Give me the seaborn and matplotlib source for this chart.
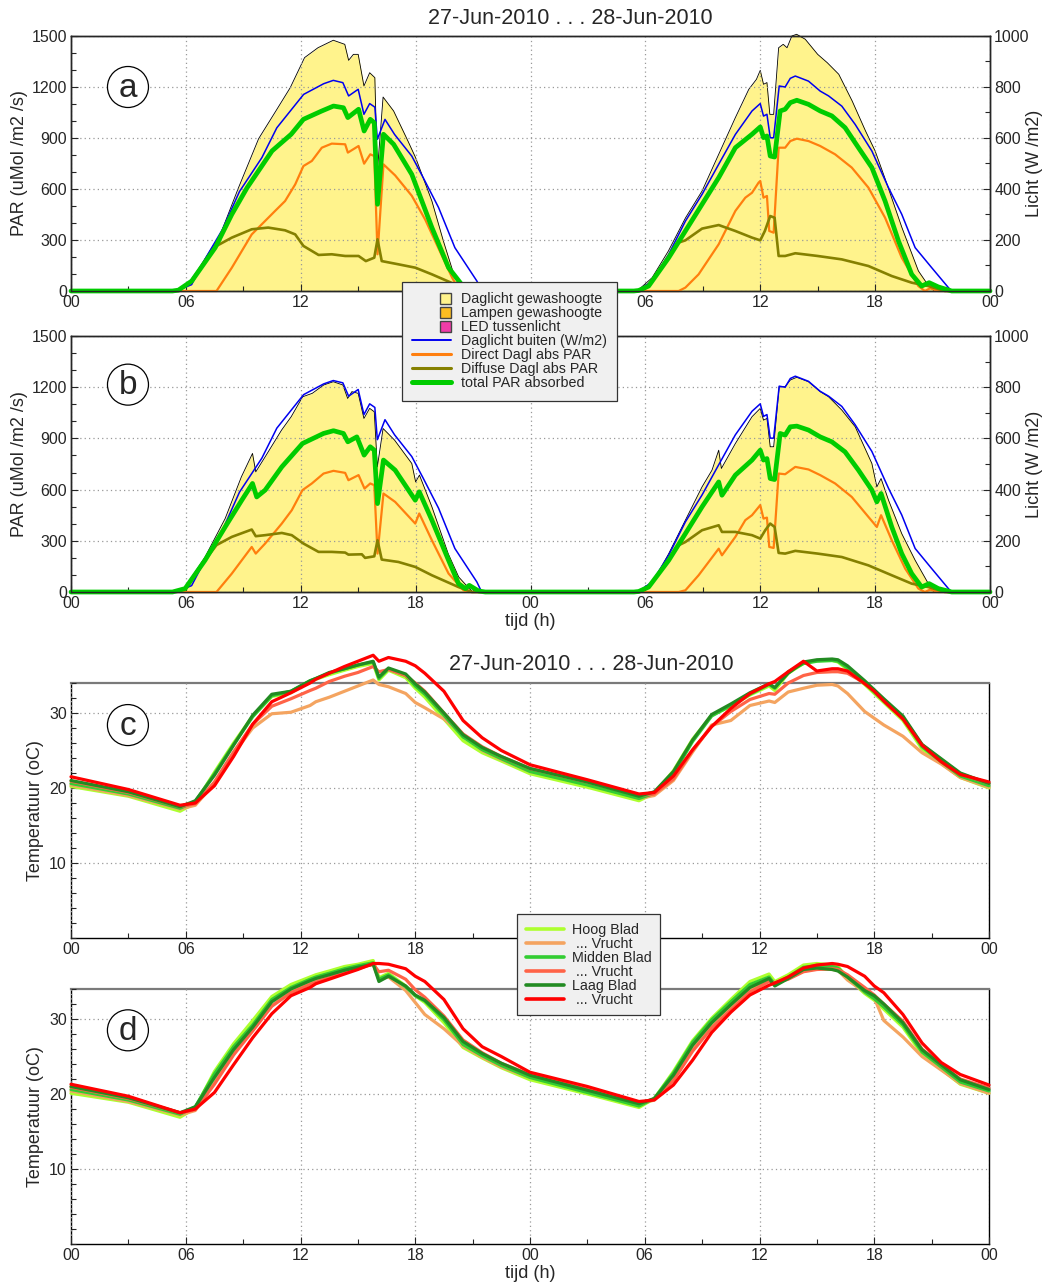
import numpy as np
import matplotlib
matplotlib.use("Agg")
import matplotlib.pyplot as plt
from matplotlib.patches import Rectangle, Ellipse
from matplotlib.lines import Line2D
from matplotlib.legend_handler import HandlerPatch
from matplotlib.ticker import MultipleLocator, FixedLocator, FixedFormatter
import seaborn as sns

sns.set_style("ticks")
plt.rcParams["font.family"] = ["Liberation Sans", "DejaVu Sans"]

# ---------------------------------------------------------------------------
# Light data, (hour of day, value) per day. PAR in uMol/m2/s, outside light in W/m2
# ---------------------------------------------------------------------------
# panel a
gewas_a_d1 = [(0, 0), (5.5, 0), (6.0, 25), (6.6, 120), (7.0, 190), (7.8, 333), (8.75, 608), (9.8, 896),
              (10.7, 1059), (11.45, 1196), (12.2, 1373), (12.9, 1431), (13.7, 1475), (14.3, 1451),
              (14.5, 1357), (14.75, 1392), (15.0, 1392), (15.3, 1206), (15.6, 1284), (15.87, 1255),
              (16.0, 700), (16.3, 1141), (16.85, 1059), (17.6, 882), (18.0, 784), (18.85, 529),
              (19.45, 294), (20.05, 78), (20.5, 0)]
gewas_a_d2 = [(0, 0), (5.57, 0), (6.35, 78), (7.2, 235), (8.1, 431), (8.96, 588), (9.83, 804), (10.7, 1020),
              (11.4, 1186), (11.8, 1245), (12.0, 1298), (12.17, 1216), (12.35, 1226), (12.5, 1039),
              (12.7, 1039), (12.96, 1431), (13.2, 1451), (13.4, 1431), (13.65, 1500), (13.9, 1510),
              (14.35, 1481), (15.0, 1392), (15.5, 1343), (16.1, 1275), (16.8, 1118), (17.5, 941),
              (18.0, 824), (18.5, 667), (19.4, 373), (20.26, 118), (20.8, 29), (21.3, 10), (22.0, 0), (24, 0)]

buiten_d1 = [(0, 0), (5.5, 0), (6.3, 25), (7.0, 125), (7.9, 240), (8.8, 390), (9.97, 523), (10.75, 640),
             (12.15, 771), (13.2, 813), (13.7, 826), (14.2, 817), (14.5, 765), (15.0, 791), (15.3, 693),
             (15.6, 735), (15.87, 721), (16.0, 595), (16.4, 673), (16.9, 614), (17.8, 529), (18.4, 444),
             (19.2, 327), (20.05, 170), (21.2, 39), (21.45, 0)]
buiten_d2 = [(0, 0), (5.6, 0), (6.35, 39), (7.22, 144), (8.09, 274), (8.96, 379), (9.83, 497), (10.7, 614),
             (11.57, 706), (12.0, 735), (12.17, 686), (12.35, 693), (12.52, 601), (12.7, 601), (12.99, 804),
             (13.3, 800), (13.57, 834), (13.83, 843), (14.52, 823), (15.13, 784), (15.57, 765),
             (16.26, 725), (16.96, 653), (17.83, 549), (18.7, 405), (19.39, 301), (20.09, 170),
             (20.96, 91), (21.83, 13), (22.0, 0), (24, 0)]

total_a_d1 = [(0, 0), (5.3, 0), (5.61, 5), (6.31, 59), (7.53, 255), (8.4, 451), (9.2, 608), (10.5, 824),
              (11.5, 922), (12.14, 1010), (13.1, 1059), (13.71, 1088), (14.23, 1078), (14.46, 1020),
              (15.02, 1069), (15.31, 941), (15.63, 1010), (15.84, 990), (16.01, 510), (16.32, 922),
              (16.85, 863), (17.8, 686), (18.85, 373), (19.72, 137), (20.33, 49), (20.59, 0)]
total_a_d2 = [(0, 0), (5.4, 0), (5.65, 3), (6.17, 29), (7.22, 196), (8.09, 353), (8.96, 510), (9.83, 667),
              (10.7, 843), (11.57, 922), (12.0, 965), (12.17, 902), (12.35, 912), (12.52, 794),
              (12.75, 788), (13.04, 1059), (13.3, 1069), (13.57, 1108), (13.91, 1122), (14.52, 1098),
              (15.13, 1059), (15.74, 1030), (16.43, 961), (17.13, 843), (17.83, 726), (18.52, 529),
              (19.22, 294), (19.91, 98), (20.43, 29), (20.82, 49), (21.3, 24), (22.0, 0), (24, 0)]

direct_a_d1 = [(0, 0), (7.6, 0), (8.4, 137), (9.44, 333), (10.66, 471), (11.18, 529), (11.71, 627),
               (12.14, 735), (12.58, 765), (13.1, 843), (13.62, 867), (14.32, 863), (14.46, 814),
               (15.02, 853), (15.31, 749), (15.63, 804), (15.84, 794), (16.01, 216), (16.32, 745),
               (16.93, 680), (17.8, 560), (18.5, 420), (19.2, 250), (19.9, 80), (20.3, 0)]
direct_a_d2 = [(0, 0), (7.74, 0), (8.09, 20), (8.78, 98), (9.83, 275), (10.7, 471), (11.22, 549),
               (11.57, 578), (11.91, 637), (12.0, 647), (12.17, 549), (12.35, 559), (12.47, 353),
               (12.7, 343), (12.96, 843), (13.3, 843), (13.57, 882), (13.91, 896), (14.52, 882),
               (15.13, 853), (15.91, 804), (16.78, 726), (17.65, 608), (18.52, 431), (19.39, 196),
               (20.26, 29), (20.6, 0), (20.87, 16), (21.3, 0), (24, 0)]

diffuse_a_d1 = [(0, 0), (5.3, 0), (5.61, 5), (6.31, 59), (7.0, 170), (7.6, 265), (8.4, 314), (9.44, 363),
                (10.3, 373), (11.18, 357), (11.71, 333), (12.14, 265), (12.93, 212), (13.62, 216),
                (14.32, 206), (15.02, 206), (15.4, 176), (15.84, 196), (16.01, 304), (16.23, 176),
                (17.1, 157), (17.99, 137), (18.85, 98), (20.06, 39), (20.6, 0)]
diffuse_a_d2 = [(0, 0), (5.4, 0), (5.65, 3), (6.17, 29), (7.22, 196), (7.74, 285), (8.09, 298),
                (8.96, 367), (9.83, 388), (10.7, 353), (11.57, 314), (12.0, 298), (12.24, 353),
                (12.52, 441), (12.75, 431), (12.96, 206), (13.3, 206), (13.83, 222), (15.0, 206),
                (16.26, 186), (17.65, 147), (18.87, 88), (19.91, 49), (20.78, 29), (21.65, 0), (24, 0)]

# panel b
gewas_b_d1 = [(0, 0), (5.5, 0), (5.96, 29), (7.0, 205), (8.05, 430), (8.9, 675), (9.48, 812), (9.65, 704),
              (10.14, 792), (11.0, 949), (11.5, 1027), (12.1, 1144), (12.6, 1164), (13.2, 1213),
              (13.7, 1232), (14.2, 1213), (14.45, 1134), (14.67, 1174), (15.0, 1164), (15.3, 1017),
              (15.6, 1076), (15.84, 1056), (16.0, 733), (16.3, 958), (16.9, 890), (17.8, 753),
              (18.0, 645), (18.2, 685), (18.85, 499), (19.7, 225), (20.25, 88), (20.8, 20), (21.0, 0)]
gewas_b_d2 = [(0, 0), (5.6, 0), (6.35, 49), (7.22, 225), (8.09, 421), (8.96, 616), (9.48, 714),
              (9.83, 831), (9.97, 724), (10.7, 870), (11.57, 1027), (12.0, 1076), (12.17, 1007),
              (12.35, 1017), (12.52, 851), (12.7, 851), (12.99, 1203), (13.3, 1203), (13.57, 1242),
              (13.91, 1258), (14.52, 1232), (15.13, 1174), (15.57, 1144), (16.26, 1066), (16.96, 968),
              (17.83, 753), (18.09, 616), (18.31, 665), (18.7, 538), (19.39, 342), (20.09, 186),
              (20.78, 49), (21.3, 20), (22.0, 0), (24, 0)]

total_b_d1 = [(0, 0), (5.3, 0), (5.96, 20), (7.0, 186), (8.05, 381), (8.92, 538), (9.48, 636), (9.7, 557),
              (10.14, 597), (11.01, 733), (12.09, 870), (13.19, 929), (13.71, 945), (14.23, 929),
              (14.46, 880), (14.93, 909), (15.31, 802), (15.63, 851), (15.84, 831), (16.01, 518),
              (16.32, 773), (16.93, 714), (17.98, 538), (18.19, 587), (18.85, 421), (19.72, 186),
              (20.24, 49), (20.59, 20), (20.8, 39), (21.29, 6), (21.64, 0)]
total_b_d2 = [(0, 0), (5.4, 0), (5.65, 3), (6.17, 29), (7.22, 186), (8.09, 342), (8.96, 499), (9.83, 645),
              (10.0, 567), (10.7, 685), (11.57, 773), (12.0, 831), (12.17, 773), (12.35, 782),
              (12.52, 665), (12.75, 659), (13.04, 929), (13.3, 919), (13.57, 968), (13.91, 972),
              (14.52, 949), (15.13, 909), (15.74, 880), (16.43, 821), (17.13, 714), (17.83, 597),
              (18.09, 528), (18.31, 577), (18.87, 381), (19.39, 225), (19.91, 108), (20.43, 29),
              (20.82, 49), (21.3, 20), (22.0, 0), (24, 0)]

direct_b_d1 = [(0, 0), (7.6, 0), (8.4, 108), (9.44, 264), (9.65, 225), (10.14, 284), (11.01, 401),
               (11.53, 479), (12.09, 597), (12.58, 636), (13.19, 694), (13.71, 710), (14.32, 698),
               (14.49, 655), (15.02, 685), (15.33, 606), (15.63, 636), (15.84, 626), (16.01, 225),
               (16.32, 577), (16.93, 528), (17.98, 401), (18.19, 460), (18.85, 303), (19.72, 108),
               (20.5, 10), (20.77, 0)]
direct_b_d2 = [(0, 0), (7.74, 0), (8.09, 10), (8.78, 98), (9.83, 254), (10.0, 215), (10.7, 323),
               (11.22, 421), (11.57, 450), (12.0, 509), (12.17, 430), (12.35, 436), (12.47, 264),
               (12.7, 258), (12.96, 694), (13.3, 690), (13.83, 733), (14.52, 718), (15.13, 685),
               (15.91, 636), (16.78, 557), (17.65, 440), (18.09, 381), (18.31, 450), (18.87, 303),
               (19.57, 137), (20.26, 20), (20.6, 0), (20.87, 14), (21.3, 0), (24, 0)]

diffuse_b_d1 = [(0, 0), (5.3, 0), (5.96, 20), (7.0, 186), (7.6, 275), (8.4, 323), (9.44, 366), (9.65, 327),
                (10.14, 333), (11.01, 346), (11.53, 333), (12.14, 284), (12.93, 235), (13.62, 235),
                (14.32, 231), (14.49, 219), (15.19, 221), (15.36, 200), (15.84, 209), (16.01, 303),
                (16.23, 190), (17.1, 176), (17.98, 147), (18.85, 98), (20.24, 29), (20.94, 0)]
diffuse_b_d2 = [(0, 0), (5.4, 0), (5.65, 3), (6.17, 29), (7.22, 186), (7.74, 274), (8.09, 293),
                (8.96, 362), (9.83, 391), (10.0, 352), (10.7, 352), (11.57, 333), (12.0, 313),
                (12.26, 362), (12.52, 401), (12.75, 381), (12.96, 229), (13.3, 225), (13.83, 241),
                (15.0, 225), (16.26, 205), (17.65, 156), (18.87, 98), (19.91, 49), (20.78, 29),
                (21.65, 0), (24, 0)]

# ---------------------------------------------------------------------------
# Temperatures (oC) at the hours in temp_hours
# ---------------------------------------------------------------------------
temp_hours = [0, 3, 5.7, 6.5, 7.5, 8.5, 9.5, 10.5, 11.5, 12.5, 12.8, 13.5, 14.3, 15, 15.8, 16.1, 16.6,
              17.5, 18, 18.5, 19.5, 20.5, 21.5, 22.5,
              24, 27, 29.7, 30.5, 31.5, 32.5, 33.5, 34.5, 35.5, 36.5, 36.8, 37.5, 38.3, 39, 39.8, 40.1,
              40.6, 41.5, 42, 42.5, 43.5, 44.5, 45.5, 46.5, 48]

c_hoog_blad = [20.2, 18.9, 16.9, 18.0, 22.1, 26.0, 29.6, 32.2, 32.7, 34.2, 34.5, 35.1, 35.7, 36.2, 36.6,
               34.4, 35.7, 34.7, 33.3, 32.1, 29.2, 26.3, 24.7, 23.6,
               21.9, 20.1, 18.3, 19.3, 22.3, 26.5, 29.7, 30.9, 32.4, 33.6, 33.0, 35.3, 36.6, 37.0, 37.0,
               36.8, 35.8, 33.8, 32.6, 31.4, 29.0, 25.2, 23.3, 21.4, 20.0]
c_hoog_vrucht = [20.4, 19.0, 17.2, 17.7, 20.6, 24.6, 28.0, 29.9, 30.1, 31.0, 31.5, 32.1, 32.9, 33.6, 34.4,
                 33.8, 33.5, 32.6, 31.4, 30.7, 29.2, 27.2, 25.0, 23.8,
                 22.2, 20.5, 18.6, 19.0, 21.0, 24.8, 28.4, 29.0, 31.0, 31.6, 31.4, 32.8, 33.3, 33.7, 33.8,
                 33.6, 32.6, 30.2, 29.3, 28.4, 26.9, 24.7, 23.2, 21.4, 20.1]
c_midden_blad = [20.6, 19.2, 17.3, 18.2, 21.9, 25.8, 29.5, 32.3, 32.9, 34.3, 34.6, 35.3, 35.9, 36.4, 36.8,
                 34.6, 35.9, 35.0, 33.6, 32.5, 29.7, 26.8, 25.1, 23.9,
                 22.2, 20.4, 18.6, 19.3, 21.9, 26.2, 29.6, 31.0, 32.5, 33.8, 33.3, 35.5, 36.6, 36.9, 37.0,
                 36.9, 36.0, 34.0, 32.8, 31.6, 29.3, 25.5, 23.5, 21.6, 20.3]
c_midden_vrucht = [20.9, 19.4, 17.5, 17.9, 20.8, 24.8, 28.5, 30.9, 31.9, 33.0, 33.3, 34.2, 34.9, 35.4, 36.2,
                   35.5, 35.8, 35.0, 34.0, 32.9, 30.0, 27.2, 25.5, 24.2,
                   22.6, 20.8, 19.0, 19.2, 21.2, 25.0, 28.2, 30.2, 31.8, 32.6, 32.5, 34.0, 35.0, 35.4, 35.5,
                   35.5, 35.3, 34.0, 33.0, 31.8, 29.4, 25.8, 23.8, 21.9, 20.6]
c_laag_blad = [21.0, 19.5, 17.5, 18.3, 21.7, 25.7, 29.7, 32.5, 32.9, 34.3, 34.6, 35.4, 35.9, 36.4, 36.9,
               34.8, 36.0, 35.2, 33.9, 32.8, 30.0, 27.1, 25.4, 24.2,
               22.6, 20.8, 18.9, 19.5, 22.2, 26.4, 29.8, 31.2, 32.7, 33.9, 33.4, 35.3, 36.8, 37.1, 37.2,
               37.1, 36.3, 34.3, 33.1, 31.9, 29.6, 25.8, 23.9, 22.0, 20.6]
c_laag_vrucht = [21.5, 19.8, 17.7, 18.0, 20.3, 24.2, 28.5, 31.5, 32.7, 34.0, 34.5, 35.3, 36.2, 36.9, 37.7,
                 36.9, 37.4, 36.9, 36.3, 35.3, 32.9, 29.0, 26.7, 25.0,
                 23.1, 21.1, 19.2, 19.4, 21.6, 25.1, 28.2, 30.6, 32.6, 33.9, 34.2, 35.5, 36.9, 35.6, 35.9,
                 35.9, 35.6, 33.9, 32.9, 31.6, 29.2, 25.7, 23.5, 21.8, 20.8]

d_hoog_blad = [20.1, 18.9, 16.9, 18.1, 23.0, 26.7, 29.8, 33.0, 34.6, 35.6, 35.9, 36.4, 37.0, 37.3, 37.8,
               35.5, 36.1, 34.4, 33.1, 32.2, 29.5, 26.2, 24.8, 23.5,
               21.9, 20.0, 18.2, 19.4, 23.0, 27.1, 30.1, 32.6, 35.0, 36.0, 35.0, 35.9, 37.2, 37.4, 37.2,
               37.0, 35.5, 33.4, 32.5, 31.3, 28.9, 25.3, 23.3, 21.3, 20.1]
d_hoog_vrucht = [20.4, 19.0, 17.2, 17.8, 21.5, 25.6, 28.6, 31.8, 33.6, 34.9, 35.2, 35.9, 36.5, 36.9, 37.3,
                 35.3, 35.6, 33.8, 32.2, 30.6, 28.7, 26.4, 24.9, 23.6,
                 22.2, 20.4, 18.6, 19.2, 21.9, 25.9, 29.1, 31.5, 33.9, 35.3, 34.8, 35.4, 36.4, 36.7, 36.6,
                 36.5, 35.2, 33.6, 32.8, 29.8, 27.6, 25.0, 23.2, 21.4, 20.1]
d_midden_blad = [20.6, 19.2, 17.3, 18.3, 22.7, 26.3, 29.2, 32.6, 34.2, 35.3, 35.6, 36.1, 36.7, 37.1, 37.5,
                 35.3, 35.9, 34.3, 33.1, 32.4, 29.9, 26.6, 25.1, 23.8,
                 22.2, 20.2, 18.4, 19.4, 22.8, 26.9, 29.9, 32.3, 34.6, 35.6, 34.6, 35.6, 36.9, 37.1, 37.0,
                 36.8, 35.6, 33.6, 32.7, 31.6, 29.2, 25.6, 23.6, 21.6, 20.4]
d_midden_vrucht = [20.9, 19.4, 17.5, 17.9, 21.3, 25.2, 28.4, 31.7, 33.5, 34.6, 34.9, 35.5, 36.2, 36.7, 37.3,
                   36.3, 36.5, 35.3, 33.9, 32.9, 30.4, 27.2, 25.5, 24.1,
                   22.6, 20.6, 18.8, 19.3, 21.8, 25.7, 28.8, 31.2, 33.6, 35.0, 34.8, 35.3, 36.3, 36.6, 36.7,
                   36.6, 35.9, 34.2, 33.2, 32.0, 29.7, 26.0, 23.9, 22.0, 20.8]
d_laag_blad = [21.0, 19.5, 17.5, 18.3, 22.2, 25.9, 28.9, 32.3, 34.0, 35.1, 35.4, 35.9, 36.5, 36.9, 37.3,
               35.0, 35.7, 34.4, 33.2, 32.5, 30.2, 27.0, 25.4, 24.1,
               22.5, 20.5, 18.7, 19.4, 22.5, 26.5, 29.5, 31.9, 34.2, 35.4, 34.4, 35.4, 36.6, 36.8, 36.6,
               36.4, 35.6, 33.8, 33.1, 32.0, 29.5, 25.9, 23.9, 21.9, 20.6]
d_laag_vrucht = [21.3, 19.7, 17.5, 18.0, 20.2, 23.9, 27.5, 30.7, 33.1, 34.2, 34.7, 35.3, 36.0, 36.6, 37.4,
                 37.4, 37.3, 36.7, 35.7, 35.0, 32.6, 28.7, 26.3, 25.0,
                 22.9, 21.0, 19.0, 19.2, 21.2, 24.5, 28.2, 30.9, 33.2, 34.5, 34.8, 35.6, 36.8, 37.2, 37.4,
                 37.3, 37.0, 35.7, 34.4, 33.5, 30.6, 26.8, 24.2, 22.6, 21.2]

hour_ticks = [0, 6, 12, 18, 24, 30, 36, 42, 48]
hour_labels = ["00", "06", "12", "18", "00", "06", "12", "18", "00"]
date_title = "27-Jun-2010 . . . 28-Jun-2010"

light_labels = ["Daglicht gewashoogte", "Lampen gewashoogte", "LED tussenlicht",
                "Daglicht buiten (W/m2)", "Direct Dagl abs PAR", "Diffuse Dagl abs PAR",
                "total PAR absorbed"]
temp_labels = ["Hoog Blad", " ... Vrucht", "Midden Blad", " ... Vrucht", "Laag Blad", " ... Vrucht"]

# ---------------------------------------------------------------------------
YELLOW = "#fff38c"
LAMP = "#fcbd22"
LED = "#f03ca8"
BLUE = "#0000f0"
ORANGE = "#ff7f0e"
OLIVE = "#858000"
GREEN = "#00cc00"
TEMP_COLORS = ["#adff2f", "#f4a460", "#32cd32", "#ff6347", "#228b22", "#ff0000"]
GRID = dict(color="#999999", linestyle=(0, (1, 2.5)), linewidth=0.9)
TICK_FS = 11.5
LABEL_FS = 13

W, H = 1043, 1284
fig = plt.figure(figsize=(W / 100, H / 100), dpi=100)


def fig_rect(left, top, right, bottom):
    return [left / W, 1 - bottom / H, (right - left) / W, (bottom - top) / H]


def join_days(d1, d2):
    t = [h for h, _ in d1] + [24 + h for h, _ in d2]
    v = [y for _, y in d1] + [y for _, y in d2]
    return np.array(t, float), np.array(v, float)


def line(ax, x, y, color, lw, z, **kw):
    sns.lineplot(x=x, y=y, ax=ax, color=color, linewidth=lw, estimator=None, sort=False,
                 legend=False, zorder=z, clip_on=False, **kw)


def style_time_axis(ax):
    ax.set_xlim(0, 48)
    ax.xaxis.set_major_locator(FixedLocator(hour_ticks))
    ax.xaxis.set_major_formatter(FixedFormatter(hour_labels))
    ax.xaxis.set_minor_locator(MultipleLocator(3))
    ax.tick_params(axis="both", which="both", direction="in", labelsize=TICK_FS, pad=3)
    ax.tick_params(which="major", length=5, width=0.8)
    ax.tick_params(which="minor", length=3.5, width=0.8)
    ax.grid(True, which="major", **GRID)
    ax.set_axisbelow(False)
    for s in ax.spines.values():
        s.set_linewidth(1.0)
        s.set_color("black")


def panel_letter(ax, letter, x, y):
    rx = 41 / (ax.get_position().width * W)
    ry = 41 / (ax.get_position().height * H)
    ax.add_patch(Ellipse((x, y), rx, ry, transform=ax.transAxes, facecolor="white",
                         edgecolor="black", linewidth=0.9, zorder=10, clip_on=False))
    ax.text(x, y - 0.004, letter, transform=ax.transAxes, ha="center", va="center",
            fontsize=24, zorder=11)


def light_panel(rect, gewas, direct, diffuse, total, letter, ly):
    ax = fig.add_axes(rect)
    ax2 = ax.twinx()
    ax2.set_ylim(0, 1000)
    ax.set_ylim(0, 1500)

    t, v = join_days(*gewas)
    ax.fill_between(t, 0, v, color=YELLOW, linewidth=0, zorder=1, clip_on=False)
    line(ax, t, v, "black", 0.6, 2)

    bt, bv = join_days(buiten_d1, buiten_d2)
    line(ax, bt, bv, BLUE, 1.1, 3, transform=ax2.transData)

    dt, dv = join_days(*direct)
    line(ax, dt, dv, ORANGE, 1.6, 4)
    ft, fv = join_days(*diffuse)
    line(ax, ft, fv, OLIVE, 1.9, 5)
    tt, tv = join_days(*total)
    line(ax, tt, tv, GREEN, 3.4, 6)

    style_time_axis(ax)
    ax.yaxis.set_major_locator(MultipleLocator(300))
    ax.yaxis.set_minor_locator(MultipleLocator(100))
    ax.set_ylabel("PAR (uMol /m2 /s)", fontsize=LABEL_FS)
    ax.yaxis.set_label_coords(-0.047, 0.5)

    ax2.yaxis.set_major_locator(MultipleLocator(200))
    ax2.yaxis.set_minor_locator(MultipleLocator(100))
    ax2.tick_params(axis="y", which="both", direction="in", labelsize=TICK_FS, pad=3)
    ax2.tick_params(which="major", length=5, width=0.8)
    ax2.tick_params(which="minor", length=3.5, width=0.8)
    ax2.set_ylabel("Licht (W /m2)", fontsize=LABEL_FS, rotation=90)
    ax2.yaxis.set_label_coords(1.039, 0.5)
    for s in ax2.spines.values():
        s.set_linewidth(1.0)
    ax.set_xlabel("")
    panel_letter(ax, letter, 0.062, ly)
    return ax


def temp_panel(rect, series, letter, ly):
    ax = fig.add_axes(rect)
    for vals, col in zip(series, TEMP_COLORS):
        line(ax, temp_hours, vals, col, 2.3, 3)
    style_time_axis(ax)
    ax.set_ylim(0, 34)
    ax.yaxis.set_major_locator(FixedLocator([10, 20, 30]))
    ax.yaxis.set_minor_locator(MultipleLocator(2))
    ax.spines["top"].set_color("#7a7a7a")
    ax.spines["top"].set_linewidth(1.6)
    ax.set_ylabel("Temperatuur (oC)", fontsize=LABEL_FS)
    ax.yaxis.set_label_coords(-0.029, 0.5)
    ax.set_xlabel("")
    panel_letter(ax, letter, 0.062, ly)
    return ax


ax_a = light_panel(fig_rect(71, 36, 990, 291),
                   (gewas_a_d1, gewas_a_d2), (direct_a_d1, direct_a_d2),
                   (diffuse_a_d1, diffuse_a_d2), (total_a_d1, total_a_d2), "a", 0.80)
ax_b = light_panel(fig_rect(71, 336, 990, 592),
                   (gewas_b_d1, gewas_b_d2), (direct_b_d1, direct_b_d2),
                   (diffuse_b_d1, diffuse_b_d2), (total_b_d1, total_b_d2), "b", 0.81)
ax_b.set_xlabel("tijd (h)", fontsize=LABEL_FS, labelpad=1)

ax_c = temp_panel(fig_rect(71, 683, 989, 938),
                  [c_hoog_blad, c_hoog_vrucht, c_midden_blad, c_midden_vrucht, c_laag_blad, c_laag_vrucht],
                  "c", 0.835)
ax_d = temp_panel(fig_rect(71, 989, 989, 1244),
                  [d_hoog_blad, d_hoog_vrucht, d_midden_blad, d_midden_vrucht, d_laag_blad, d_laag_vrucht],
                  "d", 0.838)
ax_d.set_xlabel("tijd (h)", fontsize=LABEL_FS, labelpad=1)

fig.text(570 / W, 1 - 19 / H, date_title, ha="center", va="center", fontsize=15.5)
fig.text(591 / W, 1 - 665 / H, date_title, ha="center", va="center", fontsize=15.5)


# ---------------------------------------------------------------------------
# legends
# ---------------------------------------------------------------------------
def square_at_right(legend, orig_handle, xdescent, ydescent, width, height, fontsize):
    size = 0.75 * fontsize
    return Rectangle((width - size - xdescent, (height - size) / 2 - ydescent), size, size)


light_handles = [
    Rectangle((0, 0), 1, 1, facecolor=YELLOW, edgecolor="#444444", linewidth=1.0),
    Rectangle((0, 0), 1, 1, facecolor=LAMP, edgecolor="#444444", linewidth=1.0),
    Rectangle((0, 0), 1, 1, facecolor=LED, edgecolor="#444444", linewidth=1.0),
    Line2D([], [], color=BLUE, linewidth=1.4),
    Line2D([], [], color=ORANGE, linewidth=2.2),
    Line2D([], [], color=OLIVE, linewidth=2.2),
    Line2D([], [], color=GREEN, linewidth=3.6),
]
sq = HandlerPatch(patch_func=square_at_right)
leg1 = fig.legend(light_handles, light_labels, loc="upper left",
                  bbox_to_anchor=(402 / W, 1 - 282 / H), bbox_transform=fig.transFigure,
                  fontsize=10.3, handlelength=2.7, handletextpad=0.7, labelspacing=0.0,
                  borderpad=0.72, borderaxespad=0, fancybox=False, framealpha=1,
                  handler_map={Rectangle: sq})
leg1.get_frame().set_facecolor("#f0f0f0")
leg1.get_frame().set_edgecolor("#333333")
leg1.get_frame().set_linewidth(0.9)
leg1.set_zorder(20)

temp_handles = [Line2D([], [], color=c, linewidth=2.6) for c in TEMP_COLORS]
leg2 = fig.legend(temp_handles, temp_labels, loc="upper left",
                  bbox_to_anchor=(517 / W, 1 - 914 / H), bbox_transform=fig.transFigure,
                  fontsize=10.3, handlelength=2.7, handletextpad=0.55, labelspacing=0.0,
                  borderpad=0.6, borderaxespad=0, fancybox=False, framealpha=1)
leg2.get_frame().set_facecolor("#f0f0f0")
leg2.get_frame().set_edgecolor("#333333")
leg2.get_frame().set_linewidth(0.9)
leg2.set_zorder(20)

fig.savefig("out.png", dpi=100)
